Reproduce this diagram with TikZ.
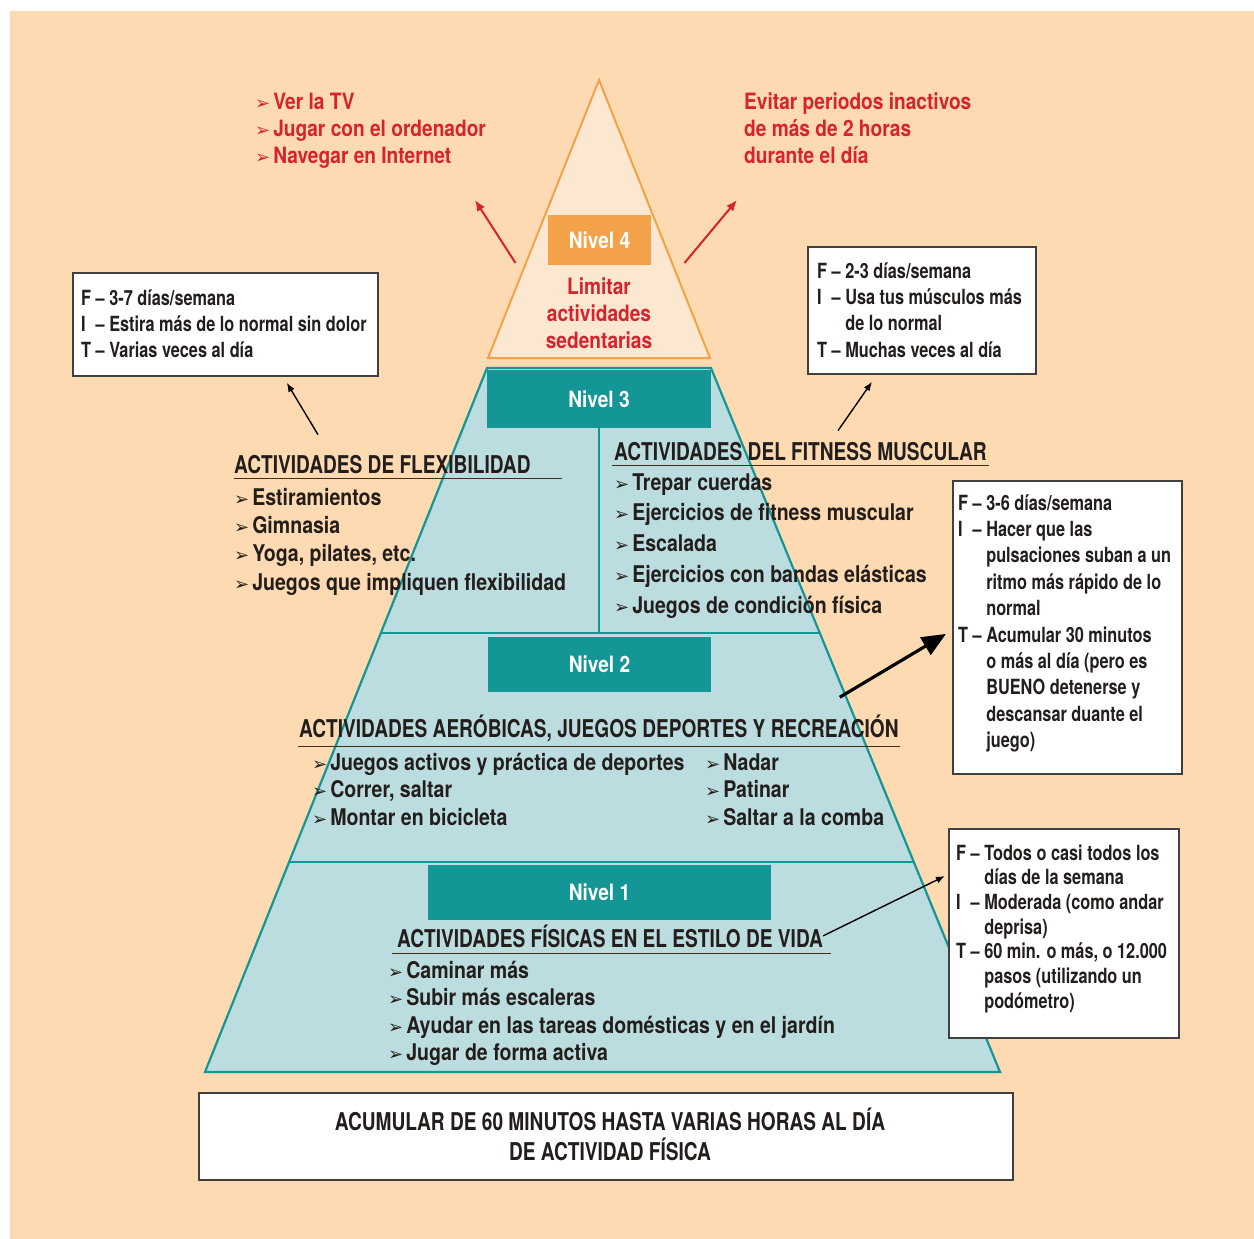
\documentclass[tikz,border=0pt]{standalone}
\usepackage{fontspec}
\setmainfont{TeX Gyre Heros}[FakeStretch=0.85]
\newfontfamily\titfont{TeX Gyre Heros}[FakeStretch=0.78]
\newfontfamily\dingfont{DejaVu Sans}
\usetikzlibrary{arrows.meta,calc}

\definecolor{fondo}{RGB}{253,218,178}
\definecolor{tealosc}{RGB}{20,150,150}
\definecolor{tealcla}{RGB}{188,221,224}
\definecolor{naranja}{RGB}{243,162,74}
\definecolor{naranjacla}{RGB}{252,231,208}
\definecolor{rojo}{RGB}{214,35,45}
\definecolor{tinta}{RGB}{35,30,28}

\newcommand{\flecha}{{\dingfont\fontsize{18}{18}\selectfont ➢}\hspace{3pt}}

\tikzset{
  nivel/.style={draw=none, fill=tealosc},
  nivtext/.style={text=white, font=\fontsize{22.5}{22.5}\selectfont\bfseries},
  divisor/.style={draw=tealosc, line width=2.2},
  titulo/.style={font=\titfont\fontsize{24.5}{24.5}\selectfont\bfseries, text=tinta, inner sep=0pt, anchor=base west},
  lista/.style={font=\fontsize{23}{27.5}\selectfont\bfseries, text=tinta, inner sep=0pt, anchor=base west},
  subraya/.style={draw=black!65!brown, line width=1.8},
  caja/.style={draw=black!75, fill=white, line width=1.8, inner sep=0pt, anchor=north west},
  cajatext/.style={font=\titfont\fontsize{20.9}{26.4}\selectfont\bfseries, text=tinta, inner sep=0pt, anchor=base west},
  rojotext/.style={font=\fontsize{22.5}{27}\selectfont\bfseries, text=rojo, inner sep=0pt},
  flechar/.style={draw=rojo, line width=2, -{Latex[length=11pt,width=9pt]}},
  flechan/.style={draw=black, line width=1.4, -{Latex[length=9pt,width=7pt]}},
}

\begin{document}
\begin{tikzpicture}[x=1pt,y=-1pt]
\useasboundingbox (0,0) rectangle (1254,1239);
\fill[white] (0,0) rectangle (1254,1239);
\fill[fondo] (10,11) rectangle (1254,1239);

% nivel 4
\filldraw[draw=naranja, fill=naranjacla, line width=2] (599,80) -- (710,358) -- (488,358) -- cycle;
\filldraw[draw=none, fill=naranja] (548,215) rectangle (651,265) node[pos=.5, nivtext] (n4) {Nivel 4};
\node[rojotext, align=center] (limitar) at (599,313) {Limitar\\actividades\\sedentarias};

\node[rojotext, anchor=base west] (sedent) at (255,110) {\begin{tabular}[t]{@{}l@{}}
\flecha Ver la TV\\ \flecha Jugar con el ordenador\\ \flecha Navegar en Internet\end{tabular}};
\node[rojotext, anchor=base west] (evitar) at (744,110) {\begin{tabular}[t]{@{}l@{}}
Evitar periodos inactivos\\ de más de 2 horas\\ durante el día\end{tabular}};
\coordinate (psed) at (475,200);
\coordinate (pevi) at (737,200);
\draw[flechar] ($(n4)+(-84,23)$) -- (psed);
\draw[flechar] ($(n4)+(85,23)$) -- (pevi);

% piramide
\coordinate (tl) at (487,368);
\coordinate (tr) at (711,368);
\coordinate (bl) at (205,1072);
\coordinate (br) at (1000,1072);
\filldraw[draw=tealosc, fill=tealcla, line width=2.2] (tl) -- (tr) -- (br) -- (bl) -- cycle;
\draw[divisor] ($(tl)!0.3764!(bl)$) -- ($(tr)!0.3764!(br)$);
\draw[divisor] ($(tl)!0.7017!(bl)$) -- ($(tr)!0.7017!(br)$);
\draw[divisor] (599,428) -- (599,633);

\filldraw[nivel] (487,370) rectangle (711,428) node[pos=.5, nivtext] (n3) {Nivel 3};
\filldraw[nivel] (488,637) rectangle (711,692) node[pos=.5, nivtext] (n2) {Nivel 2};
\filldraw[nivel] (428,865) rectangle (771,920) node[pos=.5, nivtext] (n1) {Nivel 1};

% nivel 3
\node[titulo] (hflex) at (234,473) {ACTIVIDADES DE FLEXIBILIDAD};
\draw[subraya] ($(hflex.south west)+(0,5)$) -- ($(hflex.south east)+(31,5)$);
\node[lista, font=\fontsize{23}{28.4}\selectfont\bfseries] (lflex) at (234,505) {\begin{tabular}[t]{@{}l@{}}
\flecha Estiramientos\\ \flecha Gimnasia\\ \flecha Yoga, pilates, etc.\\ \flecha Juegos que impliquen flexibilidad\end{tabular}};

\node[titulo] (hmusc) at (614,460) {ACTIVIDADES DEL FITNESS MUSCULAR};
\draw[subraya] ($(hmusc.south west)+(-2,5)$) -- ($(hmusc.south east)+(2,5)$);
\node[lista, font=\fontsize{23}{30.8}\selectfont\bfseries] (lmusc) at (614,490) {\begin{tabular}[t]{@{}l@{}}
\flecha Trepar cuerdas\\ \flecha Ejercicios de fitness muscular\\ \flecha Escalada\\ \flecha Ejercicios con bandas elásticas\\ \flecha Juegos de condición física\end{tabular}};

% nivel 2
\node[titulo] (haero) at (299,737) {ACTIVIDADES AERÓBICAS, JUEGOS DEPORTES Y RECREACIÓN};
\draw[subraya] ($(haero.south west)+(-1,5)$) -- ($(haero.south east)+(1,5)$);
\node[lista] (laero) at (312,770) {\begin{tabular}[t]{@{}l@{}}
\flecha Juegos activos y práctica de deportes\\ \flecha Correr, saltar\\ \flecha Montar en bicicleta\end{tabular}};
\node[lista] (laerob) at (705,770) {\begin{tabular}[t]{@{}l@{}}
\flecha Nadar\\ \flecha Patinar\\ \flecha Saltar a la comba\end{tabular}};

% nivel 1
\node[titulo] (hvida) at (397,947) {ACTIVIDADES FÍSICAS EN EL ESTILO DE VIDA};
\draw[subraya] ($(hvida.south west)+(-5,6)$) -- ($(hvida.south east)+(8,6)$);
\node[lista] (lvida) at (388,978) {\begin{tabular}[t]{@{}l@{}}
\flecha Caminar más\\ \flecha Subir más escaleras\\ \flecha Ayudar en las tareas domésticas y en el jardín\\ \flecha Jugar de forma activa\end{tabular}};

% cajas FIT
\node[caja, minimum width=305, minimum height=103] (cflex) at (72,272) {};
\node[cajatext] (tflex) at (81,305) {\begin{tabular}[t]{@{}l@{\ }l@{\ }l@{}}
F & – & 3-7 días/semana\\
I & – & Estira más de lo normal sin dolor\\
T & – & Varias veces al día
\end{tabular}};

\node[caja, minimum width=228, minimum height=127] (cmusc) at (807,246) {};
\node[cajatext] (tmusc) at (817,278) {\begin{tabular}[t]{@{}l@{\ }l@{\ }l@{}}
F & – & 2-3 días/semana\\
I & – & Usa tus músculos más\\
  &   & de lo normal\\
T & – & Muchas veces al día
\end{tabular}};

\node[caja, minimum width=229, minimum height=293] (caero) at (952,480) {};
\node[cajatext] (taero) at (958,510) {\begin{tabular}[t]{@{}l@{\ }l@{\ }l@{}}
F & – & 3-6 días/semana\\
I & – & Hacer que las\\
  &   & pulsaciones suban a un\\
  &   & ritmo más rápido de lo\\
  &   & normal\\
T & – & Acumular 30 minutos\\
  &   & o más al día (pero es\\
  &   & BUENO detenerse y\\
  &   & descansar duante el\\
  &   & juego)
\end{tabular}};

\node[caja, minimum width=230, minimum height=209] (cvida) at (948,828) {};
\node[cajatext, font=\titfont\fontsize{20.9}{24.7}\selectfont\bfseries] (tvida) at (956,860) {\begin{tabular}[t]{@{}l@{\ }l@{\ }l@{}}
F & – & Todos o casi todos los\\
  &   & días de la semana\\
I & – & Moderada (como andar\\
  &   & deprisa)\\
T & – & 60 min. o más, o 12.000\\
  &   & pasos (utilizando un\\
  &   & podómetro)
\end{tabular}};

% flechas
\draw[flechan] ($(hflex.north west)+(84,-20)$) -- ($(cflex.south east)+(-92,6)$);
\draw[flechan] ($(hmusc.north west)+(224,-11)$) -- ($(cmusc.south west)+(65,7)$);
\draw[draw=black, line width=3.2, -{Triangle[length=24pt,width=20pt]}] ($(haero.north east)+(-59,-17)$) -- ($(caero.west)+(-6,6.5)$);
\draw[flechan] (hvida.east) -- ($(cvida.north west)+(-3,48)$);

% total
\node[caja, minimum width=814, minimum height=87] (total) at (198,1092) {};
\node[font=\titfont\fontsize{24.5}{28}\selectfont\bfseries, text=tinta, inner sep=0pt, anchor=base] (ttotal) at (610,1130) {\begin{tabular}[t]{@{}c@{}}
ACUMULAR DE 60 MINUTOS HASTA VARIAS HORAS AL DÍA\\ DE ACTIVIDAD FÍSICA\end{tabular}};
\end{tikzpicture}
\end{document}
